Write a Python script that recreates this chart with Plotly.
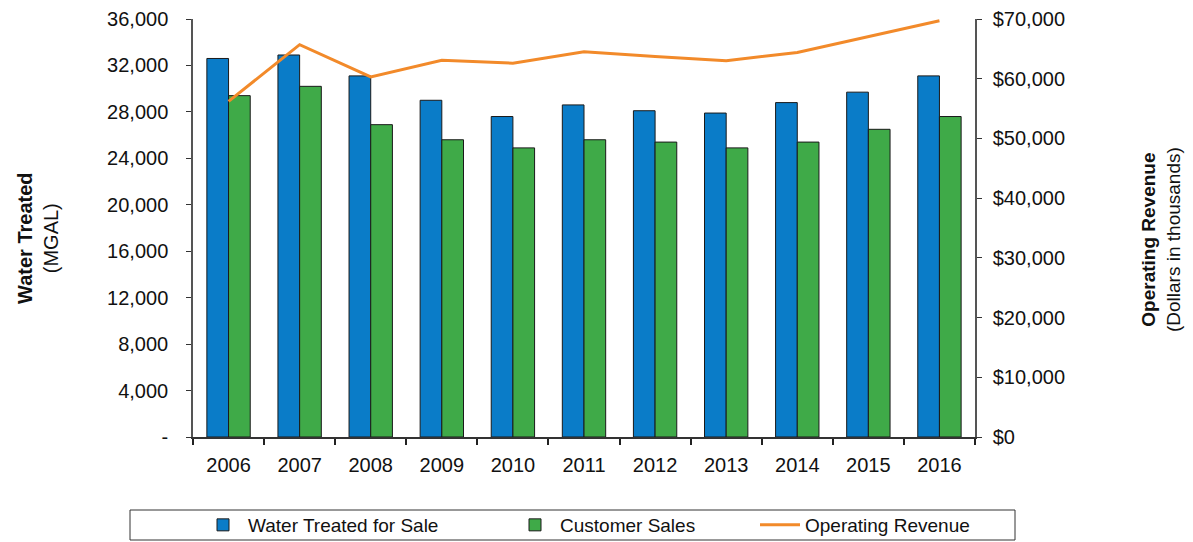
import plotly.graph_objects as go

years = ["2006", "2007", "2008", "2009", "2010", "2011", "2012", "2013", "2014", "2015", "2016"]
water_treated = [32600, 32900, 31100, 29000, 27600, 28600, 28100, 27900, 28800, 29700, 31100]
customer_sales = [29400, 30200, 26900, 25600, 24900, 25600, 25400, 24900, 25400, 26500, 27600]
operating_revenue = [56200, 65700, 60300, 63100, 62600, 64500, 63700, 63000, 64400, 67000, 69700]

left_ticks = [0, 4000, 8000, 12000, 16000, 20000, 24000, 28000, 32000, 36000]
left_labels = ["-", "4,000", "8,000", "12,000", "16,000", "20,000", "24,000", "28,000", "32,000", "36,000"]
right_ticks = [0, 10000, 20000, 30000, 40000, 50000, 60000, 70000]
right_labels = ["$0", "$10,000", "$20,000", "$30,000", "$40,000", "$50,000", "$60,000", "$70,000"]

FONT = "Liberation Sans, Arial, sans-serif"
W, H = 1193, 542
ML, MR, MT, MB = 193, 218, 19, 105

fig = go.Figure()
fig.add_trace(go.Bar(
    x=years, y=water_treated, name="Water Treated for Sale", legend="legend",
    marker=dict(color="#0A7CC8", line=dict(color="#1a1a1a", width=1)),
))
fig.add_trace(go.Bar(
    x=years, y=customer_sales, name="Customer Sales", legend="legend2",
    marker=dict(color="#3FAA48", line=dict(color="#1a1a1a", width=1)),
))
fig.add_trace(go.Scatter(
    x=years, y=operating_revenue, name="Operating Revenue", yaxis="y2",
    legend="legend3",
    mode="lines", line=dict(color="#F28A2A", width=3),
))


def px_x(x):
    return (x - ML) / (W - ML - MR)


def px_y(y):
    return (H - MB - y) / (H - MT - MB)


def legend_at(x_px):
    # one legend entry per trace so the three entries can be spread across the frame
    return dict(
        orientation="h", xref="container", yref="container",
        x=x_px / W, xanchor="left", y=1 - 525 / H, yanchor="middle",
        borderwidth=0, bgcolor="rgba(0,0,0,0)", font=dict(size=19),
        itemwidth=40,
    )


fig.update_layout(
    width=W, height=H,
    margin=dict(l=ML, r=MR, t=MT, b=MB, autoexpand=False),
    paper_bgcolor="white", plot_bgcolor="white",
    font=dict(family=FONT, size=19, color="#111"),
    barmode="group", bargap=0.39, bargroupgap=0,
    showlegend=True,
    legend=legend_at(198),
    legend2=legend_at(510),
    legend3=legend_at(755),
    xaxis=dict(
        type="category", tickson="boundaries", ticks="outside", ticklen=6,
        tickwidth=1.5, tickcolor="#222", showline=True, linecolor="#333",
        linewidth=1.5, showgrid=False, tickfont=dict(size=20),
        ticklabelstandoff=9,
    ),
    yaxis=dict(
        range=[0, 36000], tickvals=left_ticks, ticktext=left_labels,
        ticks="outside", ticklen=5, tickcolor="#333",
        showline=True, linecolor="#555", linewidth=1.5,
        showgrid=False, zeroline=False, tickfont=dict(size=20),
        ticklabelstandoff=14,
    ),
    yaxis2=dict(
        range=[0, 70000], tickvals=right_ticks, ticktext=right_labels,
        overlaying="y", side="right",
        ticks="outside", ticklen=5, tickcolor="#333",
        showline=True, linecolor="#555", linewidth=1.5,
        showgrid=False, zeroline=False, tickfont=dict(size=20),
        ticklabelstandoff=7,
    ),
    shapes=[
        # frame around the legend row
        dict(type="rect", xref="paper", yref="paper",
             x0=px_x(130), x1=px_x(1015), y0=px_y(540), y1=px_y(510),
             line=dict(color="#333", width=1), fillcolor="rgba(0,0,0,0)",
             layer="below"),
    ],
    annotations=[
        dict(text="<b>Water Treated</b><br>(MGAL)", textangle=-90,
             x=px_x(38), y=px_y(238), xref="paper", yref="paper",
             xanchor="center", yanchor="middle", showarrow=False,
             font=dict(size=20)),
        dict(text="<b>Operating Revenue</b><br>(Dollars in thousands)", textangle=-90,
             x=px_x(1161), y=px_y(240), xref="paper", yref="paper",
             xanchor="center", yanchor="middle", showarrow=False,
             font=dict(size=19)),
    ],
)

fig.write_html("out.html")
